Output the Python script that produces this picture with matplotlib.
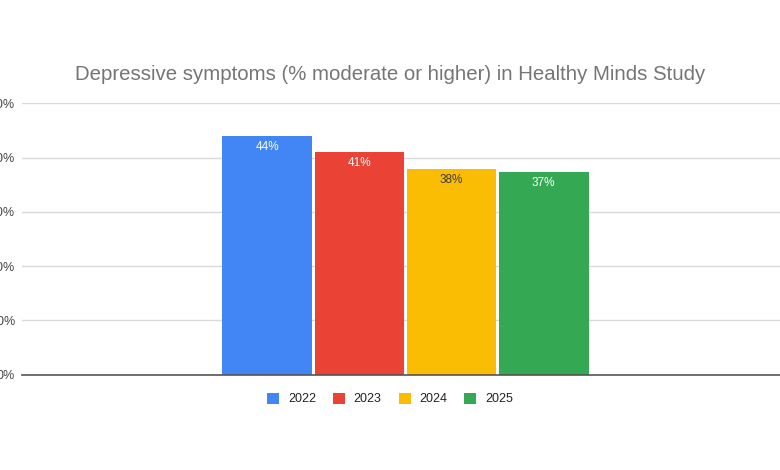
import numpy as np
import matplotlib.pyplot as plt

# datos
years = ['2022', '2023', '2024', '2025']
pct = [44.0, 41.0, 37.9, 37.4]
colores = ['#4285F4', '#EA4335', '#FBBC04', '#34A853']
color_texto = ['white', 'white', '#3c3c3c', 'white']
yticks = [0, 10, 20, 30, 40, 50]

plt.rcParams['font.family'] = ['Liberation Sans', 'DejaVu Sans']

fig = plt.figure(figsize=(7.8, 4.7), dpi=100)
W, H = 780, 470
ax = fig.add_axes([22 / W, 1 - 374.7 / H, (789 - 22) / W, (374.7 - 103.3) / H])

x = np.arange(len(years))
barras = ax.bar(x, pct, width=0.978, color=colores, label=years, zorder=3)

for xi, v, c in zip(x, pct, color_texto):
    ax.text(xi, v - 2.0, f'{round(v):.0f}%', ha='center', va='center',
            fontsize=8.5, color=c, zorder=4)

ax.set_xlim(-2.668, 5.668)
ax.set_ylim(0, 50)
ax.set_yticks(yticks)
ax.set_yticklabels([f'{t}%' for t in yticks], color='#444444', fontsize=9)
ax.set_xticks([])
ax.tick_params(axis='y', length=0, pad=5)
ax.grid(axis='y', color='#d9d9d9', linewidth=1, zorder=0)
for s in ['top', 'right', 'left']:
    ax.spines[s].set_visible(False)
ax.spines['bottom'].set_color('#555555')
ax.spines['bottom'].set_linewidth(1.2)
ax.spines['bottom'].set_zorder(5)

fig.text(0.5, 1 - 74 / H, 'Depressive symptoms (% moderate or higher) in Healthy Minds Study',
         ha='center', va='center', fontsize=14.7, color='#757575')

leg = fig.legend(handles=list(barras), labels=years, loc='center',
                 bbox_to_anchor=(0.5, 1 - 399 / H), ncol=4, frameon=False,
                 fontsize=9, handlelength=0.96, handleheight=0.96,
                 handletextpad=0.7, columnspacing=1.36)
for t in leg.get_texts():
    t.set_color('#222222')

fig.savefig('out.png', dpi=100)
